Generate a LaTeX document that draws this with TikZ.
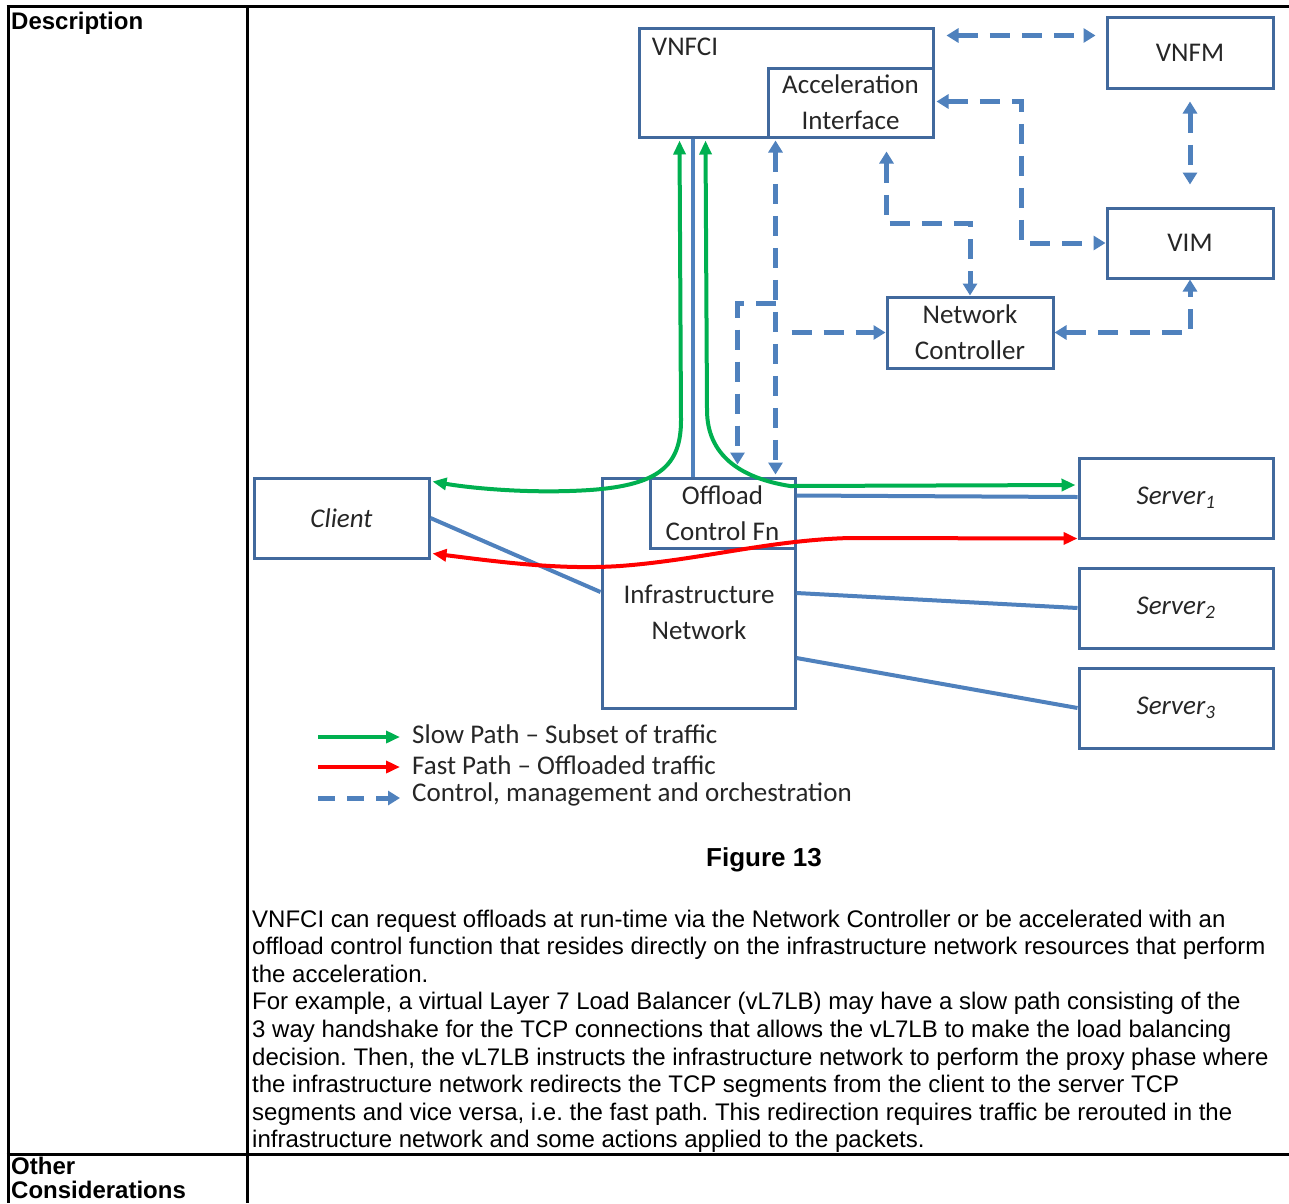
\documentclass[tikz,border=0pt]{standalone}
\usepackage{fontspec}
\setmainfont{Liberation Sans}
\newfontfamily\diagfont{Carlito}
\usetikzlibrary{arrows.meta,calc}
\frenchspacing

\definecolor{boxblue}{HTML}{41699D}
\definecolor{linkblue}{HTML}{4F81BD}
\definecolor{slowgreen}{HTML}{00B050}
\definecolor{fastred}{HTML}{FF0000}
\definecolor{ink}{HTML}{262626}

\begin{document}
\begin{tikzpicture}[x=1pt,y=-1pt,
  blk/.style={draw=boxblue, line width=3pt, fill=white, inner sep=0pt,
    font=\diagfont\fontsize{27}{36}\selectfont, text=ink, align=center},
  lbl/.style={inner sep=0pt, font=\diagfont\fontsize{27}{36}\selectfont, text=ink, align=center},
  ctrl/.style={draw=linkblue, line width=5pt, dash pattern=on 20pt off 12pt,
    arrows={Triangle[length=12pt,width=14pt]-Triangle[length=12pt,width=14pt]}},
  ctrlone/.style={draw=linkblue, line width=5pt, dash pattern=on 20pt off 12pt,
    arrows={-Triangle[length=12pt,width=14pt]}},
  slow/.style={draw=slowgreen, line width=4pt,
    arrows={Triangle[length=14pt,width=12pt]-Triangle[length=14pt,width=12pt]}},
  fast/.style={draw=fastred, line width=4pt,
    arrows={Triangle[length=14pt,width=12pt]-Triangle[length=14pt,width=12pt]}},
  link/.style={draw=linkblue, line width=4pt},
  tbl/.style={draw=black, line width=3pt},
  body/.style={inner sep=0pt, anchor=base west, font=\fontsize{24}{27.6}\selectfont},
  head/.style={inner sep=0pt, anchor=base west, font=\bfseries\fontsize{24}{27.6}\selectfont}
]
\useasboundingbox (0,0) rectangle (1289,1203);
\fill[white] (0,0) rectangle (1289,1203);

% table rules
\draw[tbl] (6.5,6.5) -- (1289,6.5);
\draw[tbl] (8,6.5) -- (8,1203);
\draw[tbl] (247,6.5) -- (247,1203);
\draw[tbl] (6.5,1154) -- (1289,1154);

\node[head] (hdesc) at (11,29) {Description};
\node[head] (hother) at (11,1174) {Other};
\node[head] (hcons) at (11,1198) {Considerations};

% boxes
\node[blk, minimum width=294pt, minimum height=109pt] (vnfci) at (786,82.5) {};
\node[lbl] (vnfcitxt) at (685,47) {VNFCI};
\node[blk, minimum width=165pt, minimum height=69pt] (accel) at (850.5,102.5) {Acceleration\\Interface};
\node[blk, minimum width=166pt, minimum height=71pt] (vnfm) at (1190,52.5) {VNFM};
\node[blk, minimum width=166pt, minimum height=70pt] (vim) at (1190,243) {VIM};
\node[blk, minimum width=166pt, minimum height=71pt] (nc) at (970,332.5) {Network\\Controller};
\node[blk, minimum width=175pt, minimum height=80pt] (client) at (341.5,518) {\itshape Client};
\node[blk, minimum width=193pt, minimum height=230pt] (infra) at (698.5,593) {};
\node[lbl] (infratxt) at (699,612) {Infrastructure\\Network};
\node[blk, minimum width=145pt, minimum height=70pt] (offload) at (722.5,513) {Offload\\Control Fn};
\node[blk, minimum width=194pt, minimum height=80pt] (s1) at (1176,498) {\itshape Server\textsubscript{1}};
\node[blk, minimum width=194pt, minimum height=80pt] (s2) at (1176,608) {\itshape Server\textsubscript{2}};
\node[blk, minimum width=194pt, minimum height=80pt] (s3) at (1176,708) {\itshape Server\textsubscript{3}};

% data links
\draw[link] ($(vnfci.south west)+(55,0)$) -- ($(offload.north west)+(44,0)$);
\draw[link] ($(offload.north east)+(0,19)$) -- ($(s1.west)+(0,-1)$);
\draw[link] (client.east) -- ($(infra.west)+(0,-1)$);
\draw[link] (infra.east) -- (s2.west);
\draw[link] ($(infra.east)+(0,65)$) -- (s3.west);

% control, management and orchestration
\draw[ctrl] ($(vnfci.north east)+(12,9)$) -- ($(vnfm.north west)+(-10,20)$);
\draw[ctrl] ($(accel.east)+(2,-1)$) -- ++(85,0) |- (vim.west);
\draw[ctrl] ($(vnfm.south)+(0,12)$) -- ($(vim.north)+(0,-22)$);
\draw[ctrl] ($(accel.south)+(36,13)$) -- ++(0,72) -| (nc.north);
\draw[ctrl] (nc.east) -| (vim.south);
\draw[ctrl] ($(accel.south west)+(9,2)$) -- ($(offload.north west)+(127,-2)$);
\draw[ctrlone] ($(nc.west)+(-94,0)$) -- (nc.west);
\draw[ctrlone] ($(accel.south west)+(9,165)$) -- ++(-38,0) -- ++(0,161);

% slow path
\draw[slow] ($(vnfci.south west)+(42,2)$) -- (681,420)
  .. controls (681,465) and (660,485) .. (590,490)
  .. controls (530,494) and (470,488) .. ($(client.north east)+(2,5)$);
\draw[slow] ($(vnfci.south west)+(68,2)$) -- (707,410)
  .. controls (707,455) and (740,478) .. (790,486)
  -- ($(s1.west)+(-2,-13)$);

% fast path
\draw[fast] ($(client.south east)+(2,-6)$)
  .. controls (500,562) and (560,570) .. (620,566)
  .. controls (700,560) and (770,540) .. (850,538)
  -- ($(s1.south west)+(0,-1)$);

% legend
\coordinate (lga) at (318,737);
\coordinate (lgb) at (400,737);
\coordinate (lgc) at (318,767);
\coordinate (lgd) at (400,767);
\coordinate (lge) at (318,798);
\coordinate (lgf) at (400,798);
\draw[draw=slowgreen, line width=4pt, -{Triangle[length=14pt,width=12pt]}] (lga) -- (lgb);
\draw[draw=fastred, line width=4pt, -{Triangle[length=14pt,width=12pt]}] (lgc) -- (lgd);
\draw[draw=linkblue, line width=5pt, dash pattern=on 17pt off 12pt, -{Triangle[length=12pt,width=14pt]}] (lge) -- (lgf);
\node[lbl, anchor=west] (lgt1) at (412,734) {Slow Path – Subset of traffic};
\node[lbl, anchor=west] (lgt2) at (412,765) {Fast Path – Offloaded traffic};
\node[lbl, anchor=west] (lgt3) at (412,794) {Control, management and orchestration};

% caption
\node[inner sep=0pt, anchor=base, font=\bfseries\fontsize{26}{30}\selectfont] (fig) at (764,866) {Figure 13};

% description text
\node[body] (b1) at (252,927) {VNFCI can request offloads at run-time via the Network Controller or be accelerated with an};
\node[body] (b2) at (252,954.6) {offload control function that resides directly on the infrastructure network resources that perform};
\node[body] (b3) at (252,982.2) {the acceleration.};
\node[body] (b4) at (252,1009.8) {For example, a virtual Layer 7 Load Balancer (vL7LB) may have a slow path consisting of the};
\node[body] (b5) at (252,1037.4) {3 way handshake for the TCP connections that allows the vL7LB to make the load balancing};
\node[body] (b6) at (252,1065) {decision. Then, the vL7LB instructs the infrastructure network to perform the proxy phase where};
\node[body] (b7) at (252,1092.6) {the infrastructure network redirects the TCP segments from the client to the server TCP};
\node[body] (b8) at (252,1120.2) {segments and vice versa, i.e. the fast path. This redirection requires traffic be rerouted in the};
\node[body] (b9) at (252,1147.8) {infrastructure network and some actions applied to the packets.};
\end{tikzpicture}
\end{document}
